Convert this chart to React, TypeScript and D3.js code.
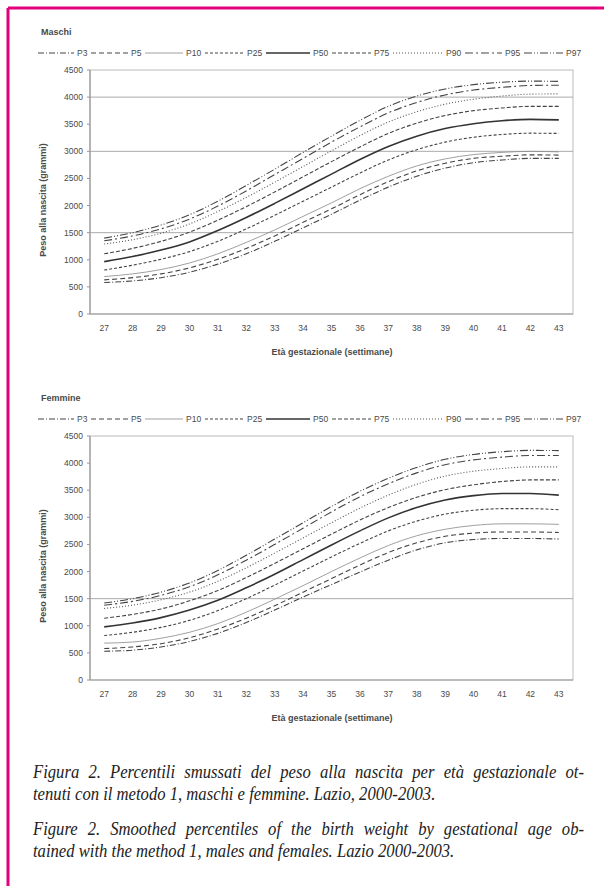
import React, { useLayoutEffect, useRef } from 'react';
import * as d3 from 'd3';

// gestational weeks (x categories)
const weeks = ['27', '28', '29', '30', '31', '32', '33', '34', '35', '36', '37', '38', '39', '40', '41', '42', '43'];
const yTicks = [0, 500, 1000, 1500, 2000, 2500, 3000, 3500, 4000, 4500];
const percentileNames = ['P3', 'P5', 'P10', 'P25', 'P50', 'P75', 'P90', 'P95', 'P97'];

// Maschi
const maleP3 = [580, 610, 670, 770, 920, 1110, 1340, 1590, 1840, 2100, 2340, 2540, 2690, 2790, 2840, 2870, 2870];
const maleP5 = [630, 670, 740, 850, 1010, 1210, 1440, 1690, 1940, 2200, 2440, 2640, 2780, 2870, 2910, 2935, 2930];
const maleP10 = [690, 740, 820, 940, 1110, 1320, 1550, 1800, 2050, 2310, 2540, 2730, 2860, 2940, 2980, 3000, 2990];
const maleP25 = [810, 900, 1010, 1150, 1340, 1570, 1820, 2080, 2340, 2600, 2840, 3030, 3170, 3260, 3310, 3335, 3330];
const maleP50 = [965, 1060, 1180, 1330, 1540, 1780, 2040, 2310, 2580, 2850, 3090, 3280, 3420, 3510, 3565, 3590, 3580];
const maleP75 = [1110, 1210, 1340, 1510, 1730, 1980, 2250, 2530, 2810, 3080, 3330, 3520, 3660, 3750, 3800, 3830, 3830];
const maleP90 = [1290, 1370, 1490, 1660, 1890, 2150, 2430, 2720, 3010, 3290, 3540, 3730, 3870, 3960, 4020, 4055, 4060];
const maleP95 = [1350, 1440, 1570, 1750, 1990, 2270, 2570, 2870, 3170, 3450, 3710, 3900, 4040, 4130, 4180, 4215, 4220];
const maleP97 = [1400, 1500, 1640, 1830, 2080, 2370, 2670, 2980, 3280, 3570, 3830, 4020, 4150, 4230, 4275, 4295, 4290];

// Femmine
const femaleP3 = [530, 550, 610, 710, 860, 1060, 1290, 1530, 1760, 1990, 2210, 2400, 2530, 2590, 2610, 2610, 2600];
const femaleP5 = [580, 610, 670, 780, 940, 1140, 1370, 1620, 1870, 2120, 2350, 2530, 2650, 2710, 2730, 2730, 2720];
const femaleP10 = [680, 700, 770, 880, 1040, 1250, 1490, 1740, 2000, 2250, 2480, 2660, 2780, 2850, 2880, 2880, 2870];
const femaleP25 = [820, 880, 970, 1100, 1280, 1500, 1750, 2010, 2270, 2520, 2750, 2930, 3060, 3130, 3160, 3160, 3140];
const femaleP50 = [980, 1050, 1150, 1290, 1470, 1700, 1950, 2220, 2490, 2750, 2990, 3180, 3320, 3400, 3440, 3440, 3410];
const femaleP75 = [1140, 1210, 1310, 1460, 1650, 1890, 2150, 2420, 2690, 2950, 3180, 3370, 3510, 3600, 3660, 3690, 3690];
const femaleP90 = [1320, 1380, 1480, 1620, 1820, 2070, 2340, 2620, 2900, 3170, 3410, 3610, 3760, 3850, 3900, 3930, 3930];
const femaleP95 = [1380, 1450, 1560, 1720, 1940, 2210, 2500, 2800, 3100, 3380, 3620, 3820, 3970, 4060, 4110, 4140, 4140];
const femaleP97 = [1420, 1500, 1620, 1790, 2020, 2300, 2600, 2900, 3200, 3480, 3720, 3920, 4070, 4160, 4210, 4235, 4230];

const maleSeries = [maleP3, maleP5, maleP10, maleP25, maleP50, maleP75, maleP90, maleP95, maleP97];
const femaleSeries = [femaleP3, femaleP5, femaleP10, femaleP25, femaleP50, femaleP75, femaleP90, femaleP95, femaleP97];

// one style per percentile, same order as percentileNames
const lineStyles = [
    { dash: '6,2,1,2', width: 1.1, color: '#444' },
    { dash: '5,3', width: 1.1, color: '#444' },
    { dash: null, width: 0.8, color: '#888' },
    { dash: '3,2', width: 1.1, color: '#444' },
    { dash: null, width: 1.6, color: '#333' },
    { dash: '4,2', width: 1.1, color: '#444' },
    { dash: '1,2', width: 1.1, color: '#555' },
    { dash: '8,3,2,3', width: 1.1, color: '#444' },
    { dash: '8,2,1,2,1,2', width: 1.1, color: '#444' },
];

const legendLabelX = [77, 131, 186, 247, 313, 374, 446, 505, 566];

// caption lines; the first line of each paragraph is justified
const captionIt = [
    'Figura 2. Percentili smussati del peso alla nascita per età gestazionale ot-',
    'tenuti con il metodo 1, maschi e femmine. Lazio, 2000-2003.',
];
const captionEn = [
    'Figure 2. Smoothed percentiles of the birth weight by gestational age ob-',
    'tained with the method 1, males and females. Lazio 2000-2003.',
];

const sans = 'Liberation Sans, Arial, sans-serif';
const textColor = '#4a4a4a';

const Panel = ({ title, series, top }: { title: string; series: number[][]; top: number }) => {
    const left = 90;
    const right = 573;
    const plotTop = top + 36;
    const plotBottom = top + 280;

    const x = d3.scaleBand().domain(weeks).range([left, right]);
    const cx = (w: string) => (x(w) as number) + x.bandwidth() / 2;
    const y = d3.scaleLinear().domain([0, 4500]).range([plotBottom, plotTop]);

    const line = d3.line<number>()
        .x((_, i) => cx(weeks[i]))
        .y(d => y(d))
        .curve(d3.curveMonotoneX);

    const legendY = top + 19;
    const gridValues = title === 'Maschi' ? [1500, 3000, 4000] : [1500];

    return (
        <g>
            <text x={41} y={top + 1} fontFamily={sans} fontWeight="bold" fontSize={9} fill={textColor}>{title}</text>

            {/* legend */}
            {percentileNames.map((name, i) => {
                const prevEnd = i === 0 ? 38 : legendLabelX[i - 1] + percentileNames[i - 1].length * 5 + 4;
                const st = lineStyles[i];
                return (
                    <g key={name}>
                        <line x1={prevEnd} x2={legendLabelX[i] - 3} y1={legendY} y2={legendY}
                            stroke={st.color} strokeWidth={st.width} strokeDasharray={st.dash ?? undefined} />
                        <text x={legendLabelX[i]} y={legendY + 3} fontFamily={sans} fontSize={8.5} fill={textColor}>{name}</text>
                    </g>
                );
            })}

            {/* plot frame and grid */}
            <rect x={left} y={plotTop} width={right - left} height={plotBottom - plotTop} fill="none" stroke="#bbb" strokeWidth={1} />
            {gridValues.map(v => (
                <line key={v} x1={left} x2={right} y1={y(v)} y2={y(v)} stroke="#aaa" strokeWidth={1} />
            ))}
            <line x1={left} x2={left} y1={plotTop} y2={plotBottom} stroke="#999" strokeWidth={1.2} />
            <line x1={left} x2={right} y1={plotBottom} y2={plotBottom} stroke="#999" strokeWidth={1.2} />

            {/* y axis */}
            {yTicks.map(t => (
                <g key={t}>
                    <line x1={left - 3} x2={left} y1={y(t)} y2={y(t)} stroke="#999" />
                    <text x={left - 7} y={y(t) + 3} textAnchor="end" fontFamily={sans} fontSize={8.5} fill={textColor}>{t}</text>
                </g>
            ))}
            <text transform={`translate(46,${(plotTop + plotBottom) / 2 + 8}) rotate(-90)`} textAnchor="middle"
                fontFamily={sans} fontWeight="bold" fontSize={9} fill={textColor}>Peso alla nascita (grammi)</text>

            {/* x axis */}
            {weeks.map(w => (
                <text key={w} x={cx(w)} y={plotBottom + 17} textAnchor="middle" fontFamily={sans} fontSize={8.5} fill={textColor}>{w}</text>
            ))}
            <text x={332} y={plotBottom + 41} textAnchor="middle" fontFamily={sans} fontWeight="bold" fontSize={9} fill={textColor}>
                Età gestazionale (settimane)
            </text>

            {/* percentile curves */}
            {series.map((values, i) => {
                const st = lineStyles[i];
                return (
                    <path key={percentileNames[i]} d={line(values) ?? ''} fill="none"
                        stroke={st.color} strokeWidth={st.width} strokeDasharray={st.dash ?? undefined} />
                );
            })}
        </g>
    );
};

const capScale = 0.9;
const justifyWidth = 551;

const Caption = ({ lines, y }: { lines: string[]; y: number }) => {
    const serif = 'Liberation Serif, Times New Roman, serif';
    const firstRef = useRef<SVGTextElement>(null);

    // justify the first line by widening the gaps between words
    useLayoutEffect(() => {
        const el = firstRef.current;
        if (!el) return;
        el.setAttribute('word-spacing', '0');
        const natural = el.getComputedTextLength();
        const gaps = lines[0].split(' ').length - 1;
        const extra = (justifyWidth / capScale - natural) / gaps;
        el.setAttribute('word-spacing', String(Math.max(0, extra)));
    }, [lines]);

    // narrowed a little to imitate the Garamond italic of the original
    return (
        <g transform={`translate(33,0) scale(${capScale},1)`}>
            {lines.map((s, i) => (
                <text key={s} ref={i === 0 ? firstRef : undefined} x={0} y={y + i * 22}
                    fontFamily={serif} fontStyle="italic" fontSize={18.5} fill="#222">{s}</text>
            ))}
        </g>
    );
};

const App = () => {
    return (
        <svg width={604} height={886} style={{ position: 'absolute', left: 0, top: 0, background: '#fff' }}>
            <rect x={0} y={0} width={604} height={886} fill="#fff" />
            {/* magenta frame */}
            <line x1={8} x2={604} y1={8} y2={8} stroke="#e4007c" strokeWidth={3} />
            <line x1={8} x2={8} y1={8} y2={886} stroke="#e4007c" strokeWidth={3} />

            <Panel title="Maschi" series={maleSeries} top={34} />
            <Panel title="Femmine" series={femaleSeries} top={400} />

            <Caption lines={captionIt} y={778} />
            <Caption lines={captionEn} y={835} />
        </svg>
    );
};

export default App;
